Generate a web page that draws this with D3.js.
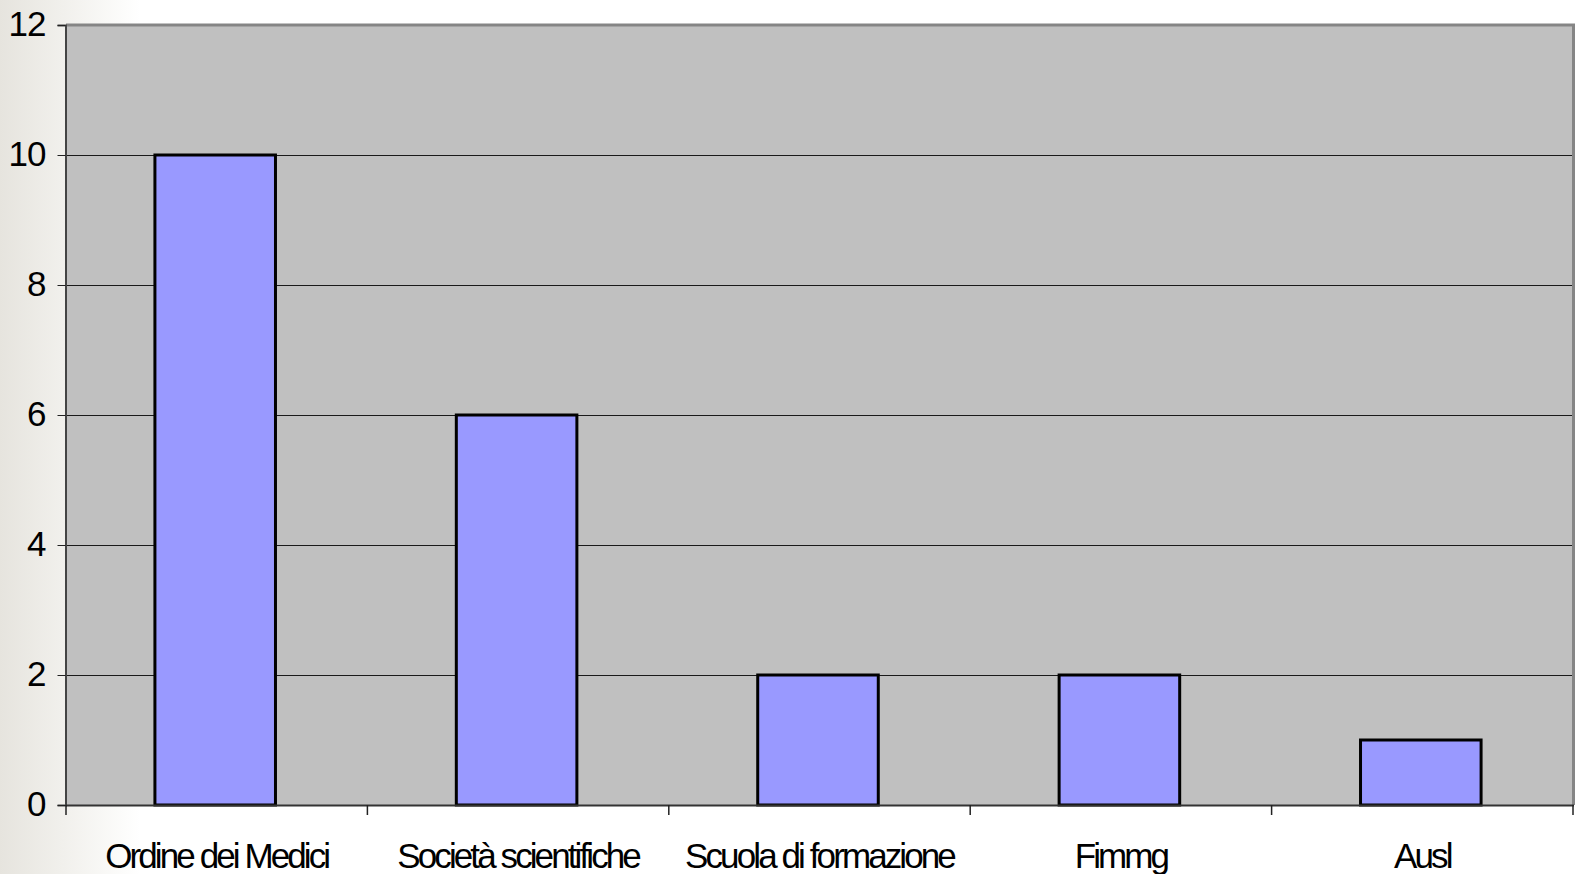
<!DOCTYPE html>
<html>
<head>
<meta charset="utf-8">
<script src="https://cdn.jsdelivr.net/npm/d3@7"></script>
<style>
  html, body { margin: 0; padding: 0; background: #ffffff; }
  svg { display: block; }
  text { font-family: "Liberation Sans", Arial, sans-serif; fill: #000; }
</style>
</head>
<body>
<svg id="chart" width="1577" height="874"></svg>
<script>
// Chart data
const categories = ["Ordine dei Medici", "Società scientifiche", "Scuola di formazione", "Fimmg", "Ausl"];
const values = [10, 6, 2, 2, 1];
const yTicks = [0, 2, 4, 6, 8, 10, 12];

const W = 1577, H = 874;
const margin = { left: 66, right: 4, top: 25, bottom: 69 };
const x0 = margin.left, x1 = W - margin.right;
const y0 = H - margin.bottom, y1 = margin.top;

const svg = d3.select("#chart");

// Slide background: soft grey fading to white on the left edge
const defs = svg.append("defs");
const grad = defs.append("linearGradient").attr("id", "bgfade")
  .attr("x1", "0").attr("x2", "1").attr("y1", "0").attr("y2", "0");
grad.append("stop").attr("offset", "0%").attr("stop-color", "#e6e4de");
grad.append("stop").attr("offset", "45%").attr("stop-color", "#f1f0ec");
grad.append("stop").attr("offset", "100%").attr("stop-color", "#ffffff");
svg.append("rect").attr("x", 0).attr("y", 0).attr("width", 140).attr("height", H)
  .attr("fill", "url(#bgfade)");

const x = d3.scaleBand().domain(categories).range([x0, x1]).paddingInner(0).paddingOuter(0);
const y = d3.scaleLinear().domain([0, 12]).range([y0, y1]);

// Plot area
svg.append("rect")
  .attr("x", x0).attr("y", y1)
  .attr("width", x1 - x0).attr("height", y0 - y1)
  .attr("fill", "#c0c0c0");

// Horizontal gridlines
svg.append("g").selectAll("line")
  .data(yTicks.filter(t => t > 0 && t < 12))
  .join("line")
  .attr("x1", x0).attr("x2", x1)
  .attr("y1", d => Math.round(y(d)) + 0.5).attr("y2", d => Math.round(y(d)) + 0.5)
  .attr("stroke", "#1a1a1a").attr("stroke-width", 1);

// Plot frame: grey top and right borders
svg.append("line").attr("x1", x0).attr("x2", x1 + 2).attr("y1", y1).attr("y2", y1)
  .attr("stroke", "#858585").attr("stroke-width", 3);
svg.append("line").attr("x1", x1 + 0.5).attr("x2", x1 + 0.5).attr("y1", y1).attr("y2", y0)
  .attr("stroke", "#858585").attr("stroke-width", 3);

// Bars
const barW = x.bandwidth() * 0.4;
svg.append("g").selectAll("rect")
  .data(values)
  .join("rect")
  .attr("x", (d, i) => x(categories[i]) + (x.bandwidth() - barW) / 2 - 1.5)
  .attr("y", d => y(d))
  .attr("width", barW)
  .attr("height", d => y(0) - y(d))
  .attr("fill", "#9999ff")
  .attr("stroke", "#000")
  .attr("stroke-width", 3);

// Y axis
const yAxis = d3.axisLeft(y).tickValues(yTicks).tickSize(8).tickFormat(d3.format("d"));
const gy = svg.append("g").attr("transform", `translate(${x0 - 0.5},0)`).call(yAxis);
gy.select(".domain").attr("stroke", "#444").attr("stroke-width", 2);
gy.selectAll(".tick line").attr("stroke", "#222");
gy.selectAll(".tick text")
  .attr("x", -20).attr("dy", "0.3em")
  .style("font-size", "35px").style("font-family", "Liberation Sans, Arial, sans-serif")
  .style("letter-spacing", "-1px")
  .attr("fill", "#000");

// X axis: ticks sit on category boundaries
const boundaries = d3.range(categories.length + 1).map(i => x0 + i * x.bandwidth());
const gx = svg.append("g");
gx.append("line").attr("x1", x0).attr("x2", x1 + 1).attr("y1", y0 + 0.5).attr("y2", y0 + 0.5)
  .attr("stroke", "#333").attr("stroke-width", 2);
gx.selectAll("line.tk").data(boundaries).join("line").attr("class", "tk")
  .attr("x1", d => d).attr("x2", d => d)
  .attr("y1", y0).attr("y2", y0 + 10)
  .attr("stroke", "#222").attr("stroke-width", 1.5);
gx.selectAll("text").data(categories).join("text")
  .attr("x", d => x(d) + x.bandwidth() / 2)
  .attr("y", 868)
  .attr("text-anchor", "middle")
  .style("font-size", "35px")
  .style("letter-spacing", "-2.9px")
  .text(d => d);
</script>
</body>
</html>
